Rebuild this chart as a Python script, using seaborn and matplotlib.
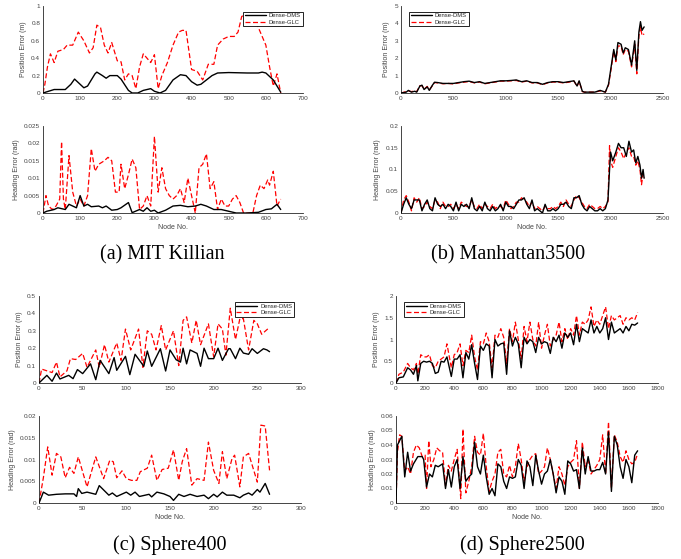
import numpy as np
import pandas as pd
import matplotlib
matplotlib.use('Agg')
import matplotlib.pyplot as plt
from matplotlib.ticker import FuncFormatter
import seaborn as sns

# ---- (a) MIT Killian ----
a_pos_dms_x = [0, 30, 60, 75, 85, 100, 110, 120, 140, 145, 160, 170, 180, 200, 210, 230, 240, 255, 270, 290, 300, 315,
               330, 350, 370, 385, 400, 415, 425, 440, 455, 470, 500, 550, 580, 590, 600, 620, 640]
a_pos_dms = [0, 0.04, 0.04, 0.1, 0.16, 0.1, 0.06, 0.08, 0.22, 0.24, 0.2, 0.17, 0.2, 0.2, 0.16, 0.03, 0.0, 0.0, 0.03,
             0.05, 0.02, 0.0, 0.03, 0.15, 0.21, 0.2, 0.13, 0.09, 0.1, 0.15, 0.2, 0.23, 0.235, 0.23, 0.23, 0.24, 0.23,
             0.15, 0.01]
a_pos_glc_x = [0, 5, 12, 20, 30, 40, 55, 65, 80, 95, 110, 125, 135, 145, 155, 165, 175, 185, 200, 210, 220, 230, 240,
               250, 260, 270, 280, 290, 300, 310, 320, 335, 350, 365, 375, 385, 400, 415, 430, 445, 460, 470, 485, 500,
               515, 525, 535, 545, 560, 575, 590, 600, 610, 620, 630, 640]
a_pos_glc = [0, 0.1, 0.3, 0.45, 0.35, 0.48, 0.5, 0.55, 0.55, 0.7, 0.6, 0.46, 0.52, 0.78, 0.75, 0.55, 0.46, 0.58, 0.37,
             0.36, 0.15, 0.22, 0.2, 0.05, 0.3, 0.45, 0.4, 0.35, 0.44, 0.05, 0.2, 0.35, 0.55, 0.7, 0.72, 0.72, 0.27,
             0.25, 0.15, 0.33, 0.33, 0.55, 0.62, 0.65, 0.65, 0.7, 0.88, 0.9, 0.9, 0.8, 0.65, 0.55, 0.3, 0.08, 0.22, 0.0]
a_head_glc_x = [0, 8, 15, 25, 35, 45, 50, 55, 60, 70, 80, 90, 100, 110, 120, 130, 140, 150, 165, 175, 185, 195, 205,
                210, 220, 230, 240, 250, 260, 270, 280, 290, 300, 310, 320, 330, 340, 350, 360, 370, 380, 390, 400,
                410, 420, 430, 440, 450, 460, 470, 480, 490, 500, 510, 520, 530, 540, 555, 565, 575, 585, 595, 605,
                610, 620, 630, 640]
a_head_glc = [0, 0.005, 0.002, 0.001, 0.002, 0.004, 0.0205, 0.004, 0.001, 0.0165, 0.006, 0.002, 0.004, 0.002, 0.005,
              0.0185, 0.012, 0.014, 0.015, 0.016, 0.015, 0.006, 0.006, 0.014, 0.007, 0.011, 0.0155, 0.013, 0.001,
              0.002, 0.005, 0.002, 0.022, 0.006, 0.013, 0.007, 0.005, 0.004, 0.005, 0.007, 0.003, 0.01, 0.005, 0.0,
              0.013, 0.014, 0.017, 0.007, 0.009, 0.001, 0.004, 0.002, 0.002, 0.004, 0.005, 0.003, 0.0, 0.0, 0.0,
              0.005, 0.008, 0.007, 0.0095, 0.008, 0.012, 0.002, 0.004]
a_head_dms_x = [0, 10, 30, 40, 60, 70, 90, 100, 110, 120, 130, 150, 160, 170, 185, 200, 210, 230, 240, 260, 270, 280,
                290, 300, 310, 330, 350, 370, 390, 410, 425, 440, 460, 480, 500, 520, 550, 580, 600, 615, 630, 640]
a_head_dms = [0, 0.0005, 0.001, 0.0015, 0.001, 0.0025, 0.0015, 0.005, 0.002, 0.0025, 0.0018, 0.002, 0.0015, 0.002,
              0.0008, 0.001, 0.0015, 0.003, 0.0001, 0.001, 0.0005, 0.0015, 0.0005, 0.0008, 0.0, 0.0008, 0.002, 0.0022,
              0.0018, 0.002, 0.0025, 0.002, 0.001, 0.001, 0.0005, 0.0, 0.0, 0.0002, 0.001, 0.0012, 0.0025, 0.001]

# ---- (b) Manhattan3500 ----
b_pos_x = [0, 50, 70, 100, 130, 150, 180, 200, 220, 250, 270, 300, 320, 350, 400, 450, 500, 550, 600, 650, 700, 750,
           800, 850, 900, 950, 1000, 1050, 1100, 1150, 1200, 1250, 1300, 1350, 1400, 1450, 1500, 1550, 1600, 1650,
           1680, 1700, 1730, 1750, 1800, 1850, 1900, 1950, 1980, 2000, 2030, 2050, 2070, 2100, 2120, 2140, 2170,
           2200, 2230, 2250, 2270, 2285, 2300, 2320]
b_pos_dms = [0, 0.05, 0.15, 0.05, 0.1, 0.05, 0.4, 0.45, 0.2, 0.35, 0.15, 0.45, 0.62, 0.6, 0.55, 0.55, 0.55, 0.6, 0.65,
             0.68, 0.6, 0.65, 0.55, 0.6, 0.65, 0.7, 0.7, 0.72, 0.75, 0.65, 0.7, 0.6, 0.6, 0.5, 0.6, 0.65, 0.65, 0.6,
             0.65, 0.7, 0.4, 0.7, 0.1, 0.05, 0.05, 0.05, 0.15, 0.05, 0.5, 1.3, 2.5, 1.9, 2.9, 2.8, 2.3, 2.6, 2.5, 1.6,
             3.0, 1.3, 3.5, 4.1, 3.6, 3.8]
b_pos_glc = [0, 0.08, 0.12, 0.08, 0.12, 0.08, 0.42, 0.42, 0.22, 0.38, 0.18, 0.42, 0.6, 0.58, 0.53, 0.55, 0.52, 0.58,
             0.62, 0.66, 0.58, 0.63, 0.53, 0.58, 0.63, 0.68, 0.68, 0.7, 0.72, 0.63, 0.68, 0.58, 0.58, 0.48, 0.58,
             0.63, 0.62, 0.58, 0.62, 0.68, 0.38, 0.68, 0.08, 0.05, 0.05, 0.05, 0.12, 0.05, 0.45, 1.2, 2.4, 1.8, 2.7,
             2.7, 2.2, 2.5, 2.4, 1.5, 2.8, 1.1, 3.3, 3.8, 3.3, 3.4]
b_head_x = [0, 25, 50, 75, 100, 125, 150, 175, 200, 225, 250, 275, 300, 325, 350, 375, 400, 425, 450, 475, 500, 525,
            550, 575, 600, 625, 650, 675, 700, 725, 750, 775, 800, 825, 850, 875, 900, 925, 950, 975, 1000, 1025,
            1050, 1075, 1100, 1125, 1150, 1175, 1200, 1225, 1250, 1275, 1300, 1325, 1350, 1375, 1400, 1425, 1450,
            1475, 1500, 1525, 1550, 1575, 1600, 1625, 1650, 1675, 1700, 1725, 1750, 1775, 1800, 1825, 1850, 1875,
            1900, 1925, 1950, 1975, 1990, 2000, 2020, 2050, 2075, 2100, 2125, 2150, 2175, 2200, 2220, 2240, 2260,
            2280, 2295, 2310, 2320]
b_head_dms = [0, 0.02, 0.035, 0.02, 0.01, 0.03, 0.03, 0.03, 0.005, 0.02, 0.03, 0.01, 0.005, 0.035, 0.02, 0.015, 0.02,
              0.01, 0.02, 0.015, 0.005, 0.025, 0.005, 0.02, 0.015, 0.02, 0.01, 0.035, 0.01, 0.005, 0.015, 0.005,
              0.025, 0.01, 0.005, 0.015, 0.005, 0.01, 0.02, 0.005, 0.025, 0.015, 0.015, 0.01, 0.02, 0.03, 0.03, 0.035,
              0.02, 0.01, 0.03, 0.005, 0.01, 0.005, 0.0, 0.02, 0.005, 0.005, 0.01, 0.005, 0.01, 0.02, 0.02, 0.025,
              0.015, 0.01, 0.035, 0.035, 0.04, 0.02, 0.01, 0.005, 0.015, 0.01, 0.005, 0.005, 0.01, 0.005, 0.01, 0.03,
              0.1, 0.14, 0.12, 0.14, 0.16, 0.15, 0.15, 0.13, 0.165, 0.14, 0.145, 0.115, 0.13, 0.11, 0.08, 0.1, 0.08]
b_head_glc = [0, 0.03, 0.04, 0.025, 0.005, 0.035, 0.025, 0.035, 0.01, 0.015, 0.025, 0.015, 0.01, 0.03, 0.025, 0.01,
              0.025, 0.015, 0.015, 0.02, 0.01, 0.02, 0.01, 0.025, 0.02, 0.015, 0.015, 0.03, 0.015, 0.01, 0.02, 0.01,
              0.02, 0.015, 0.01, 0.02, 0.01, 0.015, 0.015, 0.01, 0.03, 0.02, 0.01, 0.015, 0.025, 0.025, 0.035, 0.03,
              0.025, 0.015, 0.025, 0.01, 0.015, 0.01, 0.005, 0.015, 0.01, 0.01, 0.015, 0.01, 0.015, 0.025, 0.015,
              0.03, 0.02, 0.015, 0.03, 0.04, 0.035, 0.025, 0.015, 0.01, 0.02, 0.015, 0.01, 0.01, 0.015, 0.01, 0.015,
              0.025, 0.155, 0.12, 0.105, 0.13, 0.15, 0.14, 0.125, 0.14, 0.15, 0.13, 0.13, 0.11, 0.12, 0.1, 0.065,
              0.09, 0.08]

# ---- (c) Sphere400 ----
c_pos_dms_x = [0, 9, 15, 20, 24, 34, 39, 44, 50, 59, 65, 70, 80, 86, 89, 99, 104, 110, 120, 124, 129, 139, 145, 150,
               157, 162, 165, 169, 173, 181, 185, 189, 194, 200, 205, 210, 217, 219, 225, 230, 234, 240, 244, 250,
               257, 261, 264]
c_pos_dms = [0, 0.044, 0.01, 0.057, 0.023, 0.044, 0.025, 0.077, 0.054, 0.11, 0.019, 0.13, 0.054, 0.146, 0.073, 0.153,
             0.048, 0.165, 0.096, 0.184, 0.096, 0.197, 0.069, 0.19, 0.134, 0.12, 0.2, 0.11, 0.19, 0.17, 0.096, 0.2,
             0.14, 0.14, 0.2, 0.13, 0.197, 0.197, 0.14, 0.2, 0.172, 0.165, 0.197, 0.17, 0.197, 0.19, 0.18]
c_pos_glc_x = [0, 3, 9, 15, 20, 24, 32, 36, 42, 50, 55, 65, 69, 75, 80, 89, 94, 99, 105, 114, 119, 124, 129, 134, 140,
               145, 154, 160, 165, 169, 175, 180, 185, 194, 200, 205, 210, 214, 219, 225, 230, 234, 240, 246, 250,
               255, 264]
c_pos_glc = [0, 0.08, 0.07, 0.06, 0.12, 0.035, 0.07, 0.14, 0.135, 0.17, 0.09, 0.19, 0.09, 0.22, 0.12, 0.23, 0.13,
             0.31, 0.19, 0.31, 0.09, 0.30, 0.28, 0.19, 0.33, 0.19, 0.30, 0.1, 0.36, 0.38, 0.23, 0.36, 0.22, 0.34,
             0.15, 0.34, 0.31, 0.16, 0.43, 0.25, 0.37, 0.37, 0.19, 0.36, 0.34, 0.28, 0.32]
c_head_glc_x = [0, 5, 10, 15, 20, 25, 30, 35, 40, 45, 55, 65, 74, 81, 85, 89, 95, 100, 106, 112, 116, 124, 129, 135,
                141, 148, 154, 160, 164, 169, 175, 181, 189, 194, 200, 206, 210, 215, 221, 224, 230, 234, 240, 250,
                254, 259, 264]
c_head_glc = [0, 0.0058, 0.0129, 0.0064, 0.0114, 0.0106, 0.0058, 0.0082, 0.0068, 0.0106, 0.0037, 0.0106, 0.0056,
              0.0098, 0.0095, 0.0058, 0.0074, 0.0056, 0.0052, 0.0052, 0.0072, 0.008, 0.011, 0.0052, 0.0077, 0.008,
              0.0122, 0.0052, 0.0095, 0.0125, 0.0041, 0.0056, 0.0052, 0.014, 0.0075, 0.0045, 0.0118, 0.0056, 0.0102,
              0.011, 0.0037, 0.0106, 0.0114, 0.0048, 0.0179, 0.0177, 0.0075]
c_head_dms_x = [0, 5, 11, 20, 30, 40, 43, 45, 49, 55, 65, 69, 80, 84, 89, 100, 105, 110, 115, 126, 129, 135, 143,
                150, 154, 160, 166, 173, 181, 189, 194, 200, 204, 210, 215, 223, 230, 234, 240, 244, 250, 253, 259,
                264]
c_head_dms = [0, 0.0025, 0.0018, 0.002, 0.0021, 0.0021, 0.0015, 0.0033, 0.0022, 0.0025, 0.002, 0.004, 0.0018, 0.0023,
              0.0015, 0.0025, 0.0018, 0.0025, 0.0015, 0.002, 0.0014, 0.0025, 0.0021, 0.0015, 0.0006, 0.002, 0.0015,
              0.002, 0.0015, 0.0018, 0.001, 0.002, 0.0014, 0.0025, 0.0018, 0.0018, 0.0012, 0.0018, 0.0023, 0.0018,
              0.0031, 0.0025, 0.0045, 0.002]

# ---- (d) Sphere2500 ----
d_pos_x = [0, 20, 50, 80, 100, 120, 140, 150, 170, 190, 210, 230, 250, 270, 290, 310, 330, 350, 380, 400, 420, 440,
           460, 480, 500, 520, 540, 560, 580, 600, 620, 640, 660, 680, 700, 720, 740, 760, 780, 800, 820, 840, 860,
           880, 900, 920, 940, 960, 980, 1000, 1020, 1040, 1060, 1080, 1100, 1120, 1140, 1160, 1180, 1200, 1220,
           1240, 1260, 1280, 1300, 1320, 1340, 1360, 1380, 1400, 1420, 1440, 1460, 1480, 1500, 1520, 1540, 1560,
           1580, 1600, 1620, 1640, 1660]
d_pos_dms = [0, 0.12, 0.14, 0.35, 0.3, 0.2, 0.4, 0.05, 0.45, 0.5, 0.48, 0.5, 0.45, 0.22, 0.25, 0.5, 0.48, 0.6, 0.15,
             0.55, 0.55, 0.65, 0.12, 0.7, 0.55, 0.88, 0.45, 0.08, 0.85, 0.75, 0.9, 0.85, 0.12, 1.0, 0.85, 0.9, 0.92,
             0.2, 1.2, 0.85, 1.05, 0.9, 0.35, 1.05, 0.9, 1.0, 0.95, 0.7, 1.05, 0.9, 0.95, 0.92, 0.68, 1.05, 0.95, 1.1,
             0.8, 1.15, 1.05, 1.15, 0.88, 1.35, 0.95, 1.25, 1.2, 1.15, 1.45, 1.15, 1.3, 1.15, 1.25, 1.5, 1.0, 1.4,
             1.15, 1.2, 1.25, 1.15, 1.3, 1.2, 1.35, 1.33, 1.38]
d_pos_glc = [0, 0.2, 0.25, 0.45, 0.35, 0.3, 0.45, 0.2, 0.65, 0.6, 0.6, 0.65, 0.4, 0.35, 0.5, 0.55, 0.6, 0.9, 0.35,
             0.65, 0.7, 0.9, 0.4, 0.75, 0.7, 1.1, 0.6, 0.3, 0.95, 0.9, 1.15, 0.95, 0.35, 1.1, 1.05, 1.25, 1.05, 0.45,
             1.25, 0.95, 1.4, 1.0, 0.55, 1.3, 0.95, 1.4, 1.0, 0.85, 1.4, 0.8, 1.1, 1.35, 0.85, 1.0, 1.1, 1.4, 0.95,
             1.25, 1.0, 1.25, 1.1, 1.55, 1.1, 1.4, 1.35, 1.45, 1.75, 1.3, 1.45, 1.35, 1.55, 1.75, 1.25, 1.55, 1.45,
             1.5, 1.55, 1.35, 1.5, 1.45, 1.5, 1.45, 1.62]
d_head_dms_x = [0, 10, 25, 40, 60, 80, 100, 120, 150, 180, 190, 210, 230, 250, 270, 290, 320, 340, 360, 380, 400,
                420, 440, 460, 480, 500, 520, 540, 560, 580, 600, 620, 640, 660, 680, 700, 720, 740, 760, 780, 800,
                820, 840, 860, 880, 900, 920, 940, 960, 980, 1000, 1020, 1040, 1060, 1080, 1100, 1120, 1140, 1160,
                1180, 1200, 1220, 1240, 1260, 1280, 1300, 1320, 1340, 1360, 1380, 1400, 1420, 1440, 1460, 1480, 1500,
                1520, 1540, 1560, 1580, 1600, 1620, 1640, 1660]
d_head_dms = [0, 0.04, 0.043, 0.046, 0.018, 0.035, 0.022, 0.027, 0.032, 0.032, 0.03, 0.011, 0.02, 0.018, 0.026,
              0.025, 0.027, 0.01, 0.023, 0.011, 0.025, 0.03, 0.01, 0.032, 0.015, 0.018, 0.02, 0.042, 0.025, 0.02,
              0.033, 0.018, 0.006, 0.01, 0.005, 0.027, 0.025, 0.015, 0.01, 0.018, 0.017, 0.018, 0.03, 0.026, 0.01,
              0.029, 0.025, 0.012, 0.033, 0.022, 0.013, 0.02, 0.022, 0.03, 0.02, 0.007, 0.018, 0.015, 0.006, 0.029,
              0.027, 0.022, 0.023, 0.01, 0.038, 0.02, 0.032, 0.022, 0.022, 0.023, 0.023, 0.028, 0.02, 0.049, 0.008,
              0.046, 0.04, 0.025, 0.017, 0.03, 0.025, 0.014, 0.033, 0.036]
d_head_glc_x = [0, 10, 25, 40, 60, 80, 100, 120, 140, 160, 180, 200, 210, 225, 240, 260, 280, 300, 320, 340, 360,
                380, 400, 420, 445, 460, 480, 500, 520, 540, 560, 580, 600, 620, 640, 660, 680, 700, 720, 740, 760,
                780, 800, 820, 840, 860, 880, 900, 920, 940, 960, 980, 1000, 1020, 1040, 1060, 1080, 1100, 1120, 1140,
                1160, 1180, 1200, 1220, 1240, 1260, 1280, 1300, 1320, 1340, 1360, 1380, 1400, 1420, 1440, 1460, 1480,
                1500, 1520, 1540, 1560, 1580, 1600, 1620, 1640, 1660]
d_head_glc = [0, 0.035, 0.047, 0.046, 0.022, 0.025, 0.02, 0.035, 0.04, 0.038, 0.032, 0.033, 0.01, 0.043, 0.025,
              0.03, 0.038, 0.036, 0.035, 0.012, 0.026, 0.022, 0.03, 0.037, 0.003, 0.051, 0.007, 0.015, 0.025, 0.046,
              0.035, 0.033, 0.048, 0.025, 0.008, 0.015, 0.02, 0.035, 0.037, 0.02, 0.018, 0.026, 0.018, 0.025, 0.041,
              0.03, 0.015, 0.025, 0.03, 0.033, 0.034, 0.02, 0.022, 0.025, 0.038, 0.03, 0.02, 0.01, 0.025, 0.02, 0.012,
              0.025, 0.028, 0.03, 0.043, 0.01, 0.042, 0.025, 0.03, 0.02, 0.023, 0.026, 0.03, 0.047, 0.02, 0.056, 0.01,
              0.047, 0.042, 0.032, 0.028, 0.036, 0.03, 0.027, 0.028, 0.034]

captions = ['(a) MIT Killian', '(b) Manhattan3500', '(c) Sphere400', '(d) Sphere2500']

sns.set_style('white')
plt.rcParams['font.family'] = ['Liberation Sans', 'DejaVu Sans']
plt.rcParams['axes.linewidth'] = 0.6

fig = plt.figure(figsize=(6.81, 5.59), dpi=100)
W, H = 681, 559


def add_ax(left, right, top, bottom):
    return fig.add_axes([left / W, 1 - bottom / H, (right - left) / W, (bottom - top) / H])


def panel(ax, xd, yd, xg, yg, xmax, xstep, ymax, ystep, ylabel, xlabel=None, legend=None):
    sns.lineplot(x=xg, y=yg, ax=ax, color='#ff0000', linestyle=(0, (4, 2)), linewidth=0.9,
                 label='Dense-GLC', zorder=2)
    sns.lineplot(x=xd, y=yd, ax=ax, color='black', linewidth=1.0, label='Dense-DMS', zorder=3)
    ax.set_xlim(0, xmax)
    ax.set_ylim(0, ymax)
    ax.set_xticks(np.arange(0, xmax + xstep / 2, xstep))
    ax.set_yticks(np.arange(0, ymax + ystep / 2, ystep))
    fmt = FuncFormatter(lambda v, p: '%g' % round(v, 6))
    ax.xaxis.set_major_formatter(fmt)
    ax.yaxis.set_major_formatter(fmt)
    ax.tick_params(direction='in', length=2, width=0.5, labelsize=4.6, labelcolor='#444444', pad=2)
    for s in ['top', 'right']:
        ax.spines[s].set_visible(False)
    ax.set_ylabel(ylabel, fontsize=5, color='#444444', labelpad=3)
    if xlabel:
        ax.set_xlabel(xlabel, fontsize=5, color='#444444', labelpad=2)
    else:
        ax.set_xlabel('')
    if legend:
        h, l = ax.get_legend_handles_labels()
        leg = ax.legend(h[::-1], l[::-1], loc=legend[0], bbox_to_anchor=legend[1], fontsize=4.2,
                        frameon=True, fancybox=False, edgecolor='black', framealpha=1,
                        handlelength=3.6, borderpad=0.3, labelspacing=0.2, handletextpad=0.5)
        leg.get_frame().set_linewidth(0.6)
        leg.set_zorder(10)
    else:
        ax.get_legend().remove()


# (a)
ax = add_ax(43, 303, 6, 93)
panel(ax, a_pos_dms_x, a_pos_dms, a_pos_glc_x, a_pos_glc, 700, 100, 1, 0.2, 'Position Error (m)',
      legend=('upper right', (1.01, 0.97)))
ax = add_ax(43, 303, 126, 213)
panel(ax, a_head_dms_x, a_head_dms, a_head_glc_x, a_head_glc, 700, 100, 0.025, 0.005, 'Heading Error (rad)',
      xlabel='Node No.')
# (b)
ax = add_ax(401, 663, 6, 93)
panel(ax, b_pos_x, b_pos_dms, b_pos_x, b_pos_glc, 2500, 500, 5, 1, 'Position Error (m)',
      legend=('upper left', (0.02, 0.97)))
ax = add_ax(401, 663, 126, 213)
panel(ax, b_head_x, b_head_dms, b_head_x, b_head_glc, 2500, 500, 0.2, 0.05, 'Heading Error (rad)',
      xlabel='Node No.')
# (c)
ax = add_ax(39, 301, 296, 383)
panel(ax, c_pos_dms_x, c_pos_dms, c_pos_glc_x, c_pos_glc, 300, 50, 0.5, 0.1, 'Position Error (m)',
      legend=('upper right', (0.985, 0.96)))
ax = add_ax(39, 301, 416, 503)
panel(ax, c_head_dms_x, c_head_dms, c_head_glc_x, c_head_glc, 300, 50, 0.02, 0.005, 'Heading Error (rad)',
      xlabel='Node No.')
# (d)
ax = add_ax(396, 658, 296, 383)
panel(ax, d_pos_x, d_pos_dms, d_pos_x, d_pos_glc, 1800, 200, 2, 0.5, 'Position Error (m)',
      legend=('upper left', (0.02, 0.96)))
ax = add_ax(396, 658, 416, 503)
panel(ax, d_head_dms_x, d_head_dms, d_head_glc_x, d_head_glc, 1800, 200, 0.06, 0.01, 'Heading Error (rad)',
      xlabel='Node No.')

for cap, (cx, cy) in zip(captions, [(162, 255), (508, 255), (170, 545), (522, 545)]):
    fig.text(cx / W, 1 - cy / H, cap, ha='center', va='center', fontsize=14.5,
             family=['Liberation Serif', 'DejaVu Serif'], color='black')

fig.savefig('out.png', dpi=100)
